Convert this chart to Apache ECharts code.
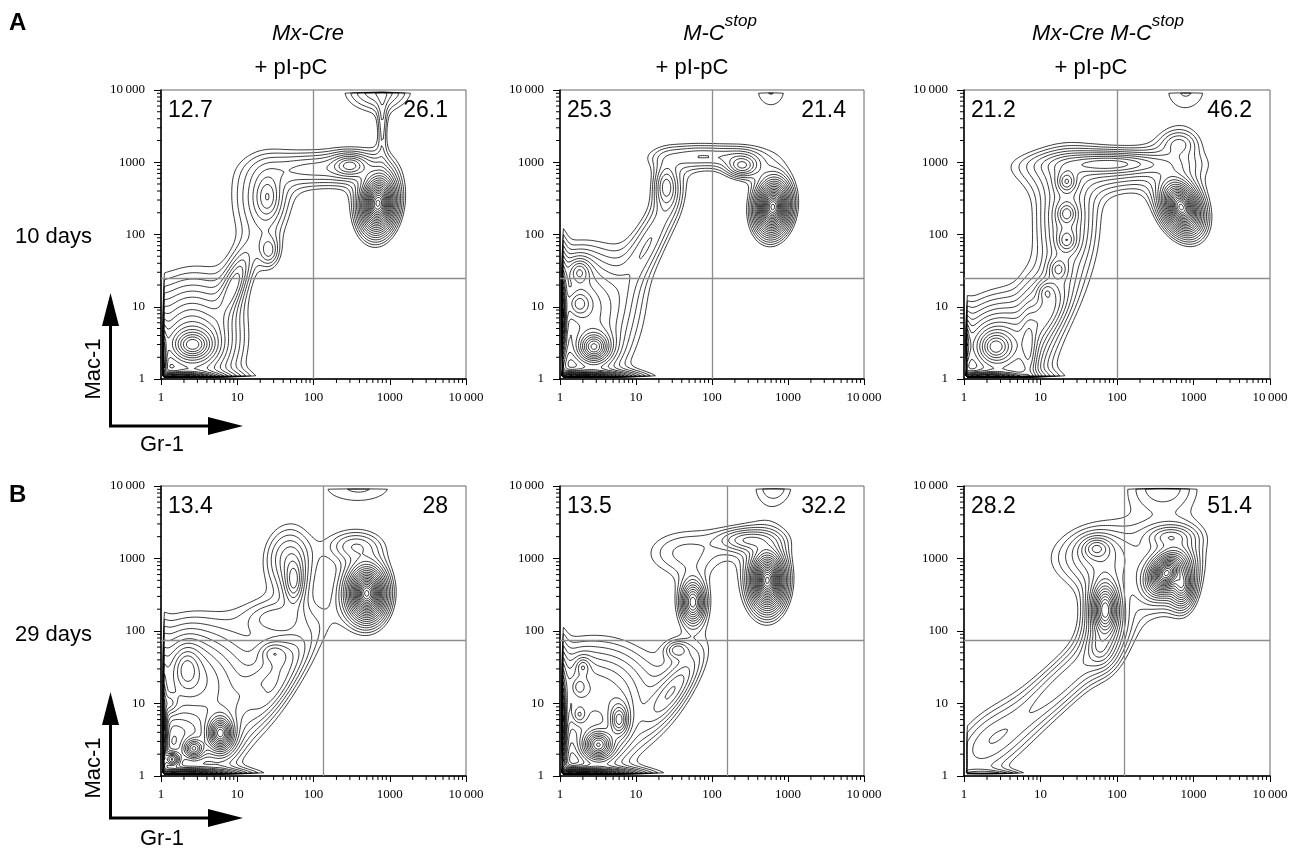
<!DOCTYPE html>
<html>
<head>
<meta charset="utf-8">
<script src="https://cdn.jsdelivr.net/npm/echarts@6/dist/echarts.min.js"></script>
<style>html,body{margin:0;background:#fff}#chart{width:1301px;height:853px}</style>
</head>
<body>
<div id="chart"></div>
<script>
var genotypes = [['Mx-Cre', ''], ['M-C', 'stop'], ['Mx-Cre M-C', 'stop']];
var treatment = '+ pI-pC';
var timepoints = ['10 days', '29 days'];
var rowLetters = ['A', 'B'];
var upperLeftPct = ['12.7', '25.3', '21.2', '13.4', '13.5', '28.2'];
var upperRightPct = ['26.1', '21.4', '46.2', '28', '32.2', '51.4'];
var gateGr1 = [100, 100, 100, 135, 158, 123];
var gateMac1 = [25, 25, 25, 75, 75, 75];
var axisMin = 1, axisMax = 10000;
var minorTickValues = [2, 3, 4, 5, 6, 7, 8, 9, 20, 30, 40, 50, 60, 70, 80, 90,
  200, 300, 400, 500, 600, 700, 800, 900, 2000, 3000, 4000, 5000, 6000, 7000, 8000, 9000];

// cell populations:
// [Gr-1 centre, Mac-1 centre, spread Gr-1 (decades), spread Mac-1 (decades), tilt, peak height]
var popsA1 = [
  [700, 270, 0.058, 0.1, 0.1, 1.0],
  [300, 900, 0.12, 0.08, 0, 0.05],
  [100, 800, 0.4, 0.15, 0, 0.022],
  [25, 330, 0.09, 0.17, 0, 0.028],
  [20, 300, 0.28, 0.38, 0, 0.015],
  [26, 60, 0.08, 0.13, 0, 0.02],
  [9, 20, 0.12, 0.26, 0.7, 0.035],
  [2.6, 3, 0.11, 0.09, 0, 0.25],
  [2.5, 4, 0.28, 0.38, 0, 0.06],
  [1.8, 1, 0.15, 0.026, 0, 0.8],
  [1, 2, 0.025, 0.155, 0, 0.3],
  [700, 10000, 0.3, 0.2, 0, 0.022],
  [800, 3500, 0.04, 0.3, 0, 0.013]
];
var popsA2 = [
  [630, 240, 0.056, 0.091, 0.1, 1.0],
  [250, 900, 0.11, 0.083, 0, 0.04],
  [80, 1200, 0.45, 0.11, 0, 0.02],
  [25, 460, 0.085, 0.17, 0, 0.035],
  [15, 80, 0.25, 0.45, 0.8, 0.02],
  [2.8, 2.8, 0.086, 0.086, 0, 0.2],
  [1.8, 11, 0.08, 0.095, 0, 0.06],
  [1.8, 30, 0.08, 0.1, 0, 0.05],
  [2.5, 10, 0.33, 0.42, 0, 0.04],
  [2, 1, 0.16, 0.026, 0, 0.8],
  [1, 8, 0.021, 0.18, 0, 0.8],
  [600, 10000, 0.23, 0.27, 0, 0.0122]
];
var popsA3 = [
  [690, 240, 0.065, 0.09, -0.3, 1.0],
  [650, 1800, 0.15, 0.12, 0, 0.02],
  [80, 950, 0.4, 0.08, 0, 0.05],
  [60, 700, 0.65, 0.19, 0, 0.015],
  [22, 540, 0.065, 0.08, 0, 0.06],
  [22, 195, 0.065, 0.08, 0, 0.05],
  [22, 83, 0.066, 0.083, 0, 0.04],
  [17, 33, 0.07, 0.087, 0, 0.03],
  [12, 16, 0.07, 0.087, 0, 0.03],
  [22, 150, 0.22, 0.43, 0, 0.03],
  [12, 8, 0.17, 0.25, 0.6, 0.04],
  [2.6, 2.8, 0.1, 0.1, 0, 0.15],
  [3, 3, 0.28, 0.32, 0, 0.05],
  [7, 2.5, 0.06, 0.3, 0, 0.04],
  [2, 1, 0.165, 0.028, 0, 0.6],
  [1, 3, 0.03, 0.15, 0, 0.1],
  [800, 10000, 0.3, 0.28, 0, 0.0122]
];
var popsB1 = [
  [500, 330, 0.062, 0.092, 0, 1.0],
  [350, 1500, 0.22, 0.13, 0, 0.018],
  [55, 500, 0.067, 0.17, 0, 0.04],
  [45, 1000, 0.2, 0.28, 0, 0.02],
  [30, 150, 0.25, 0.15, 0, 0.015],
  [25, 25, 0.35, 0.35, 0.85, 0.018],
  [3, 20, 0.4, 0.4, 0, 0.05],
  [30, 50, 0.11, 0.09, 0, 0.025],
  [30, 15, 0.22, 0.3, 0.8, 0.02],
  [6, 3.9, 0.06, 0.085, 0, 0.35],
  [2.7, 2.4, 0.06, 0.06, 0, 0.1],
  [1.4, 1.7, 0.045, 0.045, 0, 0.1],
  [2.2, 30, 0.095, 0.16, 0, 0.06],
  [1.3, 10, 0.066, 0.083, 0, 0.04],
  [2, 1, 0.2, 0.028, 0, 0.5],
  [1, 5, 0.025, 0.25, 0, 0.3],
  [400, 10000, 0.5, 0.23, 0, 0.0122]
];
var popsB2 = [
  [535, 500, 0.056, 0.1, 0, 1.0],
  [300, 1800, 0.22, 0.09, 0, 0.03],
  [56, 250, 0.064, 0.12, 0, 0.12],
  [35, 55, 0.09, 0.073, 0, 0.02],
  [40, 1200, 0.4, 0.25, 0, 0.014],
  [3, 15, 0.42, 0.37, 0, 0.04],
  [30, 15, 0.22, 0.3, 0.8, 0.03],
  [3.2, 2.7, 0.08, 0.08, 0, 0.2],
  [6, 6, 0.06, 0.11, 0, 0.1],
  [2, 32, 0.052, 0.07, 0, 0.03],
  [1.8, 17, 0.052, 0.07, 0, 0.03],
  [1.8, 7, 0.052, 0.07, 0, 0.03],
  [2, 1, 0.18, 0.026, 0, 0.8],
  [1, 6, 0.022, 0.2, 0, 0.6],
  [650, 10000, 0.24, 0.24, 0, 0.0135]
];
var popsB3 = [
  [445, 630, 0.066, 0.076, 0.3, 1.0],
  [700, 450, 0.06, 0.12, 0, 0.15],
  [500, 2000, 0.17, 0.087, 0, 0.03],
  [70, 195, 0.066, 0.145, 0, 0.3],
  [60, 60, 0.1, 0.15, 0, 0.03],
  [54, 1380, 0.1, 0.083, 0, 0.04],
  [60, 1000, 0.45, 0.28, 0, 0.02],
  [20, 20, 0.5, 0.5, 0.88, 0.025],
  [2, 3, 0.35, 0.35, 0.5, 0.017],
  [2, 1, 0.25, 0.04, 0, 0.03],
  [400, 10000, 0.35, 0.27, 0, 0.017]
];
var panels = [popsA1, popsA2, popsA3, popsB1, popsB2, popsB3];

// contour levels (log spaced, like FlowJo log-density contours)
var contourLevels = [];
for (var n = 0; n < 22; n++) contourLevels.push(0.01 * Math.pow(90, n / 21));

var cols = [[161, 305], [560, 304], [964, 306]];
var rows = [[90, 289], [486, 290]];
var SANS = "'Liberation Sans', Arial, sans-serif";
var SERIF = "'Liberation Serif', 'Times New Roman', serif";

// --- density grid + marching squares (in log10 units) ---
var GN = 160, G0 = 0.02, G1 = 3.98, GS = (G1 - G0) / GN;

function densityGrid(pops) {
  var g = [];
  for (var i = 0; i <= GN; i++) {
    var col = [];
    for (var j = 0; j <= GN; j++) {
      var d = 0;
      if (i > 0 && j > 0 && i < GN && j < GN) {
        var X = G0 + i * GS, Y = G0 + j * GS;
        for (var k = 0; k < pops.length; k++) {
          var p = pops[k];
          var u = (X - Math.log10(p[0])) / p[2], v = (Y - Math.log10(p[1])) / p[3], r = p[4];
          var q = (u * u - 2 * r * u * v + v * v) / (1 - r * r);
          d += p[5] / Math.pow(1 + q / 4, 2);
        }
      }
      col.push(d);
    }
    g.push(col);
  }
  return g;
}

var CASES = {1: [[3, 0]], 2: [[0, 1]], 3: [[3, 1]], 4: [[1, 2]], 6: [[0, 2]], 7: [[3, 2]],
  8: [[2, 3]], 9: [[0, 2]], 11: [[1, 2]], 12: [[1, 3]], 13: [[0, 1]], 14: [[3, 0]]};

function edgePoint(i, j, v, e, level) {
  var ax, ay, bx, by, va, vb, key;
  if (e === 0) { ax = i; ay = j; bx = i + 1; by = j; va = v[0]; vb = v[1]; key = 'h' + i + '_' + j; }
  else if (e === 1) { ax = i + 1; ay = j; bx = i + 1; by = j + 1; va = v[1]; vb = v[2]; key = 'v' + (i + 1) + '_' + j; }
  else if (e === 2) { ax = i; ay = j + 1; bx = i + 1; by = j + 1; va = v[3]; vb = v[2]; key = 'h' + i + '_' + (j + 1); }
  else { ax = i; ay = j; bx = i; by = j + 1; va = v[0]; vb = v[3]; key = 'v' + i + '_' + j; }
  var t = (level - va) / (vb - va);
  return [key, [G0 + (ax + t * (bx - ax)) * GS, G0 + (ay + t * (by - ay)) * GS]];
}

function isolines(g, level) {
  var segs = [];
  for (var i = 0; i < GN; i++) {
    for (var j = 0; j < GN; j++) {
      var v = [g[i][j], g[i + 1][j], g[i + 1][j + 1], g[i][j + 1]];
      var c = (v[0] > level ? 1 : 0) | (v[1] > level ? 2 : 0) | (v[2] > level ? 4 : 0) | (v[3] > level ? 8 : 0);
      if (c === 0 || c === 15) continue;
      var pairs = CASES[c];
      if (c === 5 || c === 10) {
        var hi = (v[0] + v[1] + v[2] + v[3]) / 4 > level;
        pairs = (c === 5) === hi ? [[0, 1], [2, 3]] : [[3, 0], [1, 2]];
      }
      pairs.forEach(function (pr) {
        segs.push([edgePoint(i, j, v, pr[0], level), edgePoint(i, j, v, pr[1], level)]);
      });
    }
  }
  return joinSegments(segs);
}

function joinSegments(segs) {
  var ends = {}, used = [], out = [];
  segs.forEach(function (s, n) {
    (ends[s[0][0]] = ends[s[0][0]] || []).push(n);
    (ends[s[1][0]] = ends[s[1][0]] || []).push(n);
  });
  function walk(key, pts, front) {
    for (;;) {
      var list = ends[key], next = -1;
      for (var q = 0; q < list.length; q++) if (!used[list[q]]) { next = list[q]; break; }
      if (next < 0) return;
      used[next] = true;
      var s = segs[next], far = s[0][0] === key ? s[1] : s[0];
      if (front) pts.unshift(far[1]); else pts.push(far[1]);
      key = far[0];
    }
  }
  segs.forEach(function (s, n) {
    if (used[n]) return;
    used[n] = true;
    var pts = [s[0][1], s[1][1]];
    walk(s[1][0], pts, false);
    walk(s[0][0], pts, true);
    out.push(pts);
  });
  return out;
}

function contourData(pops) {
  var g = densityGrid(pops), data = [];
  contourLevels.forEach(function (L) {
    isolines(g, L).forEach(function (pts) {
      data.push({coords: pts.map(function (p) { return [Math.pow(10, p[0]), Math.pow(10, p[1])]; })});
    });
  });
  return data;
}

function tickLabel(v) { return v === 10000 ? '10\u2009000' : String(v); }

var option = { animation: false, grid: [], xAxis: [], yAxis: [], series: [], graphic: [] };

panels.forEach(function (pops, k) {
  var r = Math.floor(k / 3), c = k % 3;
  var left = cols[c][0], width = cols[c][1], top = rows[r][0], height = rows[r][1];
  option.grid.push({left: left, width: width, top: top, height: height, show: true,
    borderColor: '#666', borderWidth: 1, backgroundColor: 'transparent'});
  option.xAxis.push({type: 'log', logBase: 10, gridIndex: k, min: axisMin, max: axisMax,
    splitLine: {show: false},
    axisLine: {onZero: false, lineStyle: {color: '#000', width: 1.5}},
    axisTick: {length: 6, lineStyle: {color: '#000'}},
    axisLabel: {margin: 12, color: '#000', fontFamily: SERIF, fontSize: 13, formatter: tickLabel}});
  option.yAxis.push({type: 'log', logBase: 10, gridIndex: k, min: axisMin, max: axisMax,
    splitLine: {show: false},
    axisLine: {onZero: false, lineStyle: {color: '#000', width: 1.5}},
    axisTick: {length: 7, lineStyle: {color: '#000'}},
    axisLabel: {margin: 16, color: '#000', fontFamily: SERIF, fontSize: 13, formatter: tickLabel}});

  option.series.push({type: 'lines', coordinateSystem: 'cartesian2d', xAxisIndex: k, yAxisIndex: k,
    polyline: true, silent: true, lineStyle: {color: '#000', width: 0.8, opacity: 1},
    data: contourData(pops)});
  option.series.push({type: 'line', xAxisIndex: k, yAxisIndex: k, data: [],
    markLine: {silent: true, symbol: ['none', 'none'], label: {show: false},
      lineStyle: {color: '#8c8c8c', width: 1.3, type: 'solid'},
      data: [{xAxis: gateGr1[k]}, {yAxis: gateMac1[k]}]}});
  option.series.push({type: 'custom', xAxisIndex: k, yAxisIndex: k, silent: true, clip: false,
    data: minorTickValues.map(function (v) { return [v, v]; }),
    renderItem: function (params, api) {
      var p = api.coord([api.value(0), axisMin]);
      return {type: 'line', shape: {x1: p[0], y1: p[1], x2: p[0], y2: p[1] + 4},
        style: {stroke: '#000', lineWidth: 1}};
    }});
  option.series.push({type: 'custom', xAxisIndex: k, yAxisIndex: k, silent: true, clip: false,
    data: minorTickValues.map(function (v) { return [v, v]; }),
    renderItem: function (params, api) {
      var p = api.coord([axisMin, api.value(1)]);
      return {type: 'line', shape: {x1: p[0], y1: p[1], x2: p[0] - 4, y2: p[1]},
        style: {stroke: '#000', lineWidth: 1}};
    }});

  option.graphic.push({type: 'text', x: left + 7, y: top + 21,
    style: {text: upperLeftPct[k], font: '23px ' + SANS, fill: '#000', align: 'left', verticalAlign: 'middle'}});
  option.graphic.push({type: 'text', x: left + width - 18, y: top + 21,
    style: {text: upperRightPct[k], font: '23px ' + SANS, fill: '#000', align: 'right', verticalAlign: 'middle'}});
});

// column headings
var titleX = [308, 720, 1108], treatX = [291, 692, 1091];
genotypes.forEach(function (gt, c) {
  option.graphic.push({type: 'text', x: titleX[c], y: 28.5,
    style: {text: '{g|' + gt[0] + '}' + (gt[1] ? '{s|' + gt[1] + '}' : ''), align: 'center', verticalAlign: 'middle',
      rich: {
        g: {fontFamily: SANS, fontSize: 22, fontStyle: 'italic', lineHeight: 32, verticalAlign: 'bottom', fill: '#000'},
        s: {fontFamily: SANS, fontSize: 17, fontStyle: 'italic', lineHeight: 15, verticalAlign: 'top', fill: '#000'}
      }}});
  option.graphic.push({type: 'text', x: treatX[c], y: 68,
    style: {text: treatment, font: '22px ' + SANS, fill: '#000', align: 'center', verticalAlign: 'middle'}});
});

// row labels, letters and axis arrows
var letterY = [23, 495], dayY = [237, 635], arrowY = [426, 818], tipY = [293, 692], macY = [369, 768], grY = [445, 839];
timepoints.forEach(function (t, r) {
  option.graphic.push({type: 'text', x: 9, y: letterY[r],
    style: {text: rowLetters[r], font: 'bold 24px ' + SANS, fill: '#000', align: 'left', verticalAlign: 'middle'}});
  option.graphic.push({type: 'text', x: 15, y: dayY[r],
    style: {text: t, font: '22px ' + SANS, fill: '#000', align: 'left', verticalAlign: 'middle'}});
  var ay = arrowY[r], ty = tipY[r];
  option.graphic.push({type: 'polyline', shape: {points: [[110.5, ty + 30], [110.5, ay], [212, ay]]},
    style: {stroke: '#000', lineWidth: 3, fill: null}});
  option.graphic.push({type: 'polygon', shape: {points: [[102, ty + 33], [119, ty + 33], [110.5, ty]]}, style: {fill: '#000'}});
  option.graphic.push({type: 'polygon', shape: {points: [[208, ay - 9], [208, ay + 9], [243, ay]]}, style: {fill: '#000'}});
  option.graphic.push({type: 'text', x: 94, y: macY[r], rotation: Math.PI / 2,
    style: {text: 'Mac-1', font: '22px ' + SANS, fill: '#000', align: 'center', verticalAlign: 'middle'}});
  option.graphic.push({type: 'text', x: 162, y: grY[r],
    style: {text: 'Gr-1', font: '22px ' + SANS, fill: '#000', align: 'center', verticalAlign: 'middle'}});
});

var myChart = echarts.init(document.getElementById('chart'));
myChart.setOption(option);
</script>
</body>
</html>
